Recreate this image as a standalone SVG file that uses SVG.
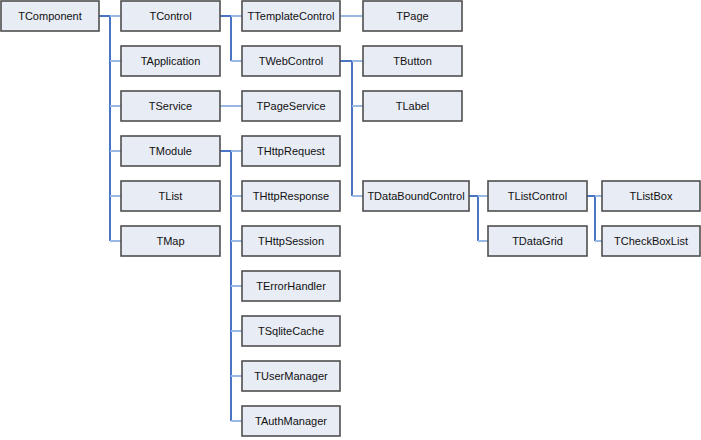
<svg xmlns="http://www.w3.org/2000/svg" width="701" height="440" viewBox="0 0 701 440">
<style>
.b rect{fill:#e8ecf5;stroke:#4f4f4f;stroke-width:1.6}
.b text{font-family:"Liberation Sans",Arial,sans-serif;font-size:11px;fill:#111;text-anchor:middle}
.d{stroke:#4a74c4;stroke-width:2;fill:none}
.l{stroke:#9ab8e4;stroke-width:2;fill:none}
</style>
<g id="connectors">
<path class="d" d="M99 16H110V241"/>
<path class="l" d="M110 16H121M110 61H121M110 106H121M110 151H121M110 196H121M110 241H121"/>
<path class="d" d="M220 16H231V61"/>
<path class="l" d="M231 16H242M231 61H242"/>
<path class="l" d="M220 106H242"/>
<path class="l" d="M340 16H363"/>
<path class="d" d="M340 61H352V196"/>
<path class="l" d="M352 61H363M352 106H363M352 196H363"/>
<path class="d" d="M220 151H231V421"/>
<path class="l" d="M231 151H242M231 196H242M231 241H242M231 286H242M231 331H242M231 376H242M231 421H242"/>
<path class="d" d="M469 196H478V241"/>
<path class="l" d="M478 196H488M478 241H488"/>
<path class="d" d="M587 196H595V241"/>
<path class="l" d="M595 196H602M595 241H602"/>
</g>
<g id="TComponent" class="b"><rect x="1" y="1" width="98" height="30"/><text x="50" y="20">TComponent</text></g>
<g id="TControl" class="b"><rect x="121" y="1" width="99" height="30"/><text x="170.5" y="20">TControl</text></g>
<g id="TApplication" class="b"><rect x="121" y="46" width="99" height="30"/><text x="170.5" y="65">TApplication</text></g>
<g id="TService" class="b"><rect x="121" y="91" width="99" height="30"/><text x="170.5" y="110">TService</text></g>
<g id="TModule" class="b"><rect x="121" y="136" width="99" height="30"/><text x="170.5" y="155">TModule</text></g>
<g id="TList" class="b"><rect x="121" y="181" width="99" height="30"/><text x="170.5" y="200">TList</text></g>
<g id="TMap" class="b"><rect x="121" y="226" width="99" height="30"/><text x="170.5" y="245">TMap</text></g>
<g id="TTemplateControl" class="b"><rect x="242" y="1" width="98" height="30"/><text x="291" y="20">TTemplateControl</text></g>
<g id="TWebControl" class="b"><rect x="242" y="46" width="98" height="30"/><text x="291" y="65">TWebControl</text></g>
<g id="TPageService" class="b"><rect x="242" y="91" width="98" height="30"/><text x="291" y="110">TPageService</text></g>
<g id="THttpRequest" class="b"><rect x="242" y="136" width="98" height="30"/><text x="291" y="155">THttpRequest</text></g>
<g id="THttpResponse" class="b"><rect x="242" y="181" width="98" height="30"/><text x="291" y="200">THttpResponse</text></g>
<g id="THttpSession" class="b"><rect x="242" y="226" width="98" height="30"/><text x="291" y="245">THttpSession</text></g>
<g id="TErrorHandler" class="b"><rect x="242" y="271" width="98" height="30"/><text x="291" y="290">TErrorHandler</text></g>
<g id="TSqliteCache" class="b"><rect x="242" y="316" width="98" height="30"/><text x="291" y="335">TSqliteCache</text></g>
<g id="TUserManager" class="b"><rect x="242" y="361" width="98" height="30"/><text x="291" y="380">TUserManager</text></g>
<g id="TAuthManager" class="b"><rect x="242" y="406" width="98" height="30"/><text x="291" y="425">TAuthManager</text></g>
<g id="TPage" class="b"><rect x="363" y="1" width="99" height="30"/><text x="412.5" y="20">TPage</text></g>
<g id="TButton" class="b"><rect x="363" y="46" width="99" height="30"/><text x="412.5" y="65">TButton</text></g>
<g id="TLabel" class="b"><rect x="363" y="91" width="99" height="30"/><text x="412.5" y="110">TLabel</text></g>
<g id="TDataBoundControl" class="b"><rect x="363" y="181" width="106" height="30"/><text x="416" y="200">TDataBoundControl</text></g>
<g id="TListControl" class="b"><rect x="488" y="181" width="99" height="30"/><text x="537.5" y="200">TListControl</text></g>
<g id="TDataGrid" class="b"><rect x="488" y="226" width="99" height="30"/><text x="537.5" y="245">TDataGrid</text></g>
<g id="TListBox" class="b"><rect x="602" y="181" width="98" height="30"/><text x="651" y="200">TListBox</text></g>
<g id="TCheckBoxList" class="b"><rect x="602" y="226" width="98" height="30"/><text x="651" y="245">TCheckBoxList</text></g>
</svg>
